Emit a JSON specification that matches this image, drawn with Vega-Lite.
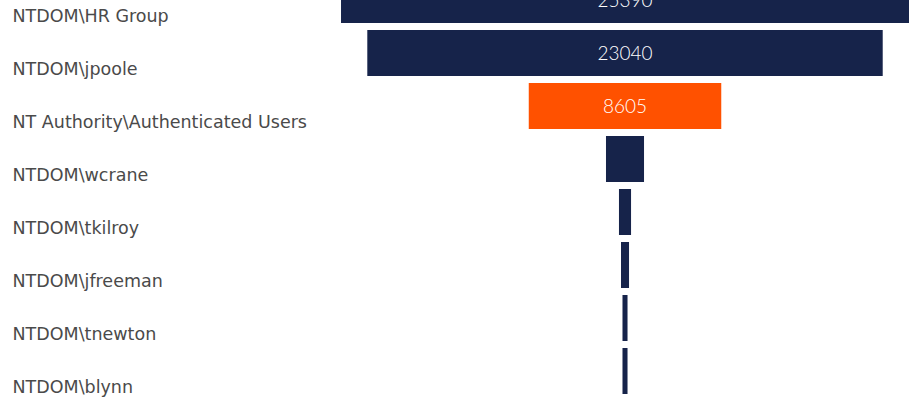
{
  "$schema": "https://vega.github.io/schema/vega-lite/v6.json",
  "width": 916,
  "height": 401,
  "autosize": {"type": "none"},
  "padding": 0,
  "background": "#ffffff",
  "config": {"view": {"stroke": null}},
  "data": {
    "values": [
      {"user": "NTDOM\\HR Group", "count": 25390},
      {"user": "NTDOM\\jpoole", "count": 23040},
      {"user": "NT Authority\\Authenticated Users", "count": 8605},
      {"user": "NTDOM\\wcrane", "count": 1700},
      {"user": "NTDOM\\tkilroy", "count": 540},
      {"user": "NTDOM\\jfreeman", "count": 360},
      {"user": "NTDOM\\tnewton", "count": 225},
      {"user": "NTDOM\\blynn", "count": 225}
    ]
  },
  "transform": [
    {"calculate": "-datum.count / 2", "as": "lo"},
    {"calculate": "datum.count / 2", "as": "hi"}
  ],
  "encoding": {
    "y": {
      "field": "user",
      "type": "nominal",
      "sort": null,
      "scale": {"range": [-26.5, 397.5], "paddingInner": 0.132, "paddingOuter": 0.066},
      "axis": {
        "title": null,
        "domain": false,
        "ticks": false,
        "grid": false,
        "offset": -12,
        "labelAlign": "left",
        "labelPadding": 0,
        "labelOffset": 17,
        "labelFont": "DejaVu Sans",
        "labelFontSize": 17.5,
        "labelColor": "#4a4a4a",
        "labelLimit": 400
      }
    }
  },
  "layer": [
    {
      "mark": {"type": "bar"},
      "encoding": {
        "x": {
          "field": "lo",
          "type": "quantitative",
          "scale": {"domain": [-27939, 13008], "nice": false, "zero": false},
          "axis": null
        },
        "x2": {"field": "hi"},
        "color": {
          "condition": {"test": "datum.user === 'NT Authority\\\\Authenticated Users'", "value": "#ff5100"},
          "value": "#16234a"
        }
      }
    },
    {
      "transform": [{"filter": "datum.count > 5000"}],
      "mark": {"type": "text", "color": "#ffffff", "font": "Lato", "fontSize": 19, "fontWeight": 300, "baseline": "middle", "align": "center", "dy": 1},
      "encoding": {
        "x": {"datum": 0, "type": "quantitative"},
        "text": {"field": "count", "type": "quantitative", "format": "d"}
      }
    }
  ]
}
